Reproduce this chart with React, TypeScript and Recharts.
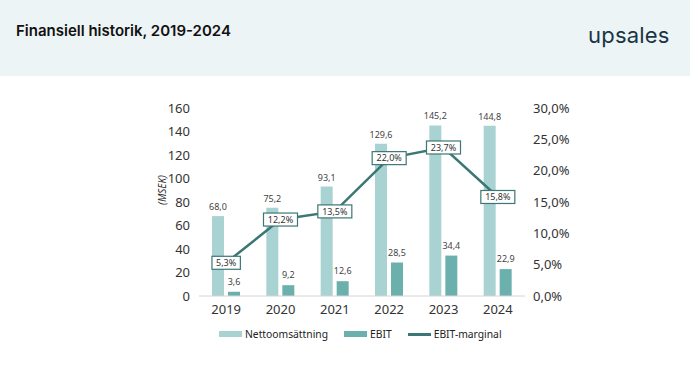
import React from 'react';
import { ComposedChart, Bar, Line, XAxis, YAxis, LabelList } from 'recharts';

const years = ['2019', '2020', '2021', '2022', '2023', '2024'];
const nettoomsattning = [68.0, 75.2, 93.1, 129.6, 145.2, 144.8];
const ebit = [3.6, 9.2, 12.6, 28.5, 34.4, 22.9];
const ebitMarginal = [0.053, 0.122, 0.135, 0.22, 0.237, 0.158];

const leftTicks = [0, 20, 40, 60, 80, 100, 120, 140, 160];
const rightTicks = [0, 0.05, 0.1, 0.15, 0.2, 0.25, 0.3];

const data = years.map((year, i) => ({
  year,
  netto: nettoomsattning[i],
  ebit: ebit[i],
  marginal: ebitMarginal[i],
}));

const FONT = '"Noto Sans", sans-serif';
const LIGHT = '#a9d2d2';
const MID = '#6cb0ae';
const DARK = '#3c7775';

const comma = (v: number, d: number) => v.toFixed(d).replace('.', ',');
const pct = (v: number) => comma(v * 100, 1) + '%';

function MarginLabel(props: any) {
  const { x, y, value } = props;
  const text = pct(value);
  const w = text.length * 5.6 + 6;
  return (
    <g>
      <rect x={x - w / 2} y={y - 6.5} width={w} height={13} fill="#fff" stroke={DARK} strokeWidth={1.2} />
      <text x={x} y={y + 3.2} textAnchor="middle" fontSize={9} fill="#333" fontFamily={FONT}>
        {text}
      </text>
    </g>
  );
}

function LegendItem({ color, label, thin }: { color: string; label: string; thin?: boolean }) {
  return (
    <div style={{ display: 'flex', alignItems: 'center', marginRight: 16 }}>
      <div style={{ width: 23, height: thin ? 3 : 6, background: color, marginRight: 3 }} />
      <span>{label}</span>
    </div>
  );
}

export default function App() {
  return (
    <div style={{ position: 'absolute', left: 0, top: 0, width: 690, height: 386, background: '#fff', fontFamily: FONT, overflow: 'hidden' }}>
      <div style={{ position: 'absolute', left: 0, top: 0, width: 690, height: 76, background: '#edf4f6' }} />
      <div style={{ position: 'absolute', left: 16, top: 21, fontFamily: 'Inter, sans-serif', fontWeight: 600, fontSize: 15, color: '#111' }}>
        Finansiell historik, 2019-2024
      </div>
      <div style={{ position: 'absolute', left: 588, top: 22, fontFamily: 'Inter, sans-serif', fontWeight: 400, fontSize: 22, color: '#1a3543', letterSpacing: 0.2 }}>
        upsales
      </div>
      <div style={{ position: 'absolute', left: 0, top: 0 }}>
        <ComposedChart
          width={690}
          height={386}
          data={data}
          margin={{ top: 108, right: 105, bottom: 60, left: 159 }}
          barSize={12}
          barGap={4}
        >
          <XAxis
            dataKey="year"
            axisLine={{ stroke: '#d4d4d4' }}
            tickLine={false}
            tickSize={0}
            tickMargin={9}
            height={30}
            tick={{ fontSize: 13, fill: '#333', fontFamily: FONT }}
          />
          <YAxis
            yAxisId="left"
            domain={[0, 160]}
            ticks={leftTicks}
            axisLine={false}
            tickLine={false}
            tickSize={0}
            tickMargin={9}
            width={40}
            tick={{ fontSize: 13, fill: '#333', fontFamily: FONT }}
          />
          <YAxis
            yAxisId="right"
            orientation="right"
            domain={[0, 0.3]}
            ticks={rightTicks}
            tickFormatter={pct}
            axisLine={false}
            tickLine={false}
            tickSize={0}
            tickMargin={8}
            width={60}
            tick={{ fontSize: 13, fill: '#333', fontFamily: FONT }}
          />
          <Bar yAxisId="left" dataKey="netto" fill={LIGHT} isAnimationActive={false}>
            <LabelList dataKey="netto" position="top" offset={6} formatter={(v: any) => comma(v, 1)} style={{ fontSize: 9, fill: '#444', fontFamily: FONT }} />
          </Bar>
          <Bar yAxisId="left" dataKey="ebit" fill={MID} isAnimationActive={false}>
            <LabelList dataKey="ebit" position="top" offset={7} formatter={(v: any) => comma(v, 1)} style={{ fontSize: 9, fill: '#444', fontFamily: FONT }} />
          </Bar>
          <Line
            yAxisId="right"
            dataKey="marginal"
            stroke={DARK}
            strokeWidth={2.5}
            dot={false}
            isAnimationActive={false}
          >
            <LabelList dataKey="marginal" content={<MarginLabel />} />
          </Line>
          <text x={166} y={190} transform="rotate(-90 166 190)" textAnchor="middle" fontSize={10} fontStyle="italic" fill="#333" fontFamily={FONT}>
            (MSEK)
          </text>
        </ComposedChart>
      </div>
      <div style={{ position: 'absolute', left: 219, top: 327, display: 'flex', fontSize: 10.3, color: '#222' }}>
        <LegendItem color={LIGHT} label="Nettoomsättning" />
        <LegendItem color={MID} label="EBIT" />
        <LegendItem color={DARK} label="EBIT-marginal" thin />
      </div>
    </div>
  );
}
